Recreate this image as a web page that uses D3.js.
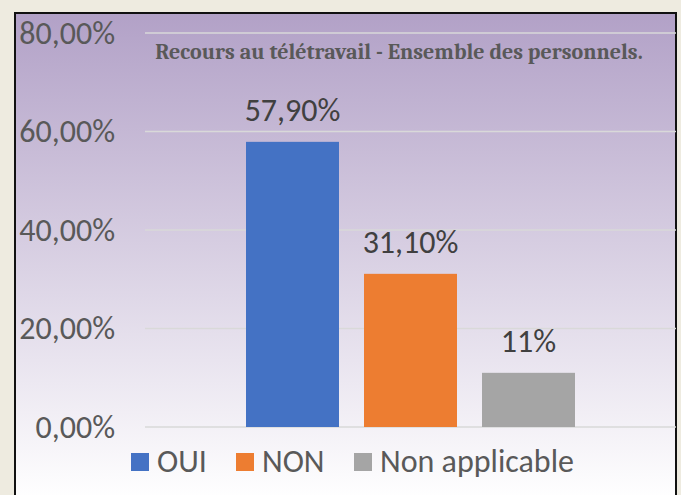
<!DOCTYPE html>
<html>
<head>
<meta charset="utf-8">
<script src="https://cdn.jsdelivr.net/npm/d3@7"></script>
<style>
  html, body { margin: 0; padding: 0; background: #eeebe0; }
  svg { display: block; }
  .sans { font-family: Calibri, Carlito, "Open Sans", sans-serif; }
  .title { font-family: Cambria, Caladea, "Liberation Serif", serif; font-weight: bold; }
</style>
</head>
<body>
<div id="chart"></div>
<script>
const title = 'Recours au télétravail - Ensemble des personnels.'
const series = ['OUI', 'NON', 'Non applicable']
const values = [57.9, 31.1, 11]
const valueLabels = ['57,90%', '31,10%', '11%']
const colors = ['#4472c4', '#ed7d31', '#a5a5a5']
const yTicks = [0, 20, 40, 60, 80]

const W = 681, H = 495
const frame = {left: 15, top: 13, right: 676}
const plot = {left: 145, right: 676, top: 33, bottom: 427}

const svg = d3.select('#chart').append('svg')
	.attr('width', W).attr('height', H)

const defs = svg.append('defs')
const grad = defs.append('linearGradient')
	.attr('id', 'bg').attr('x1', 0).attr('y1', 0).attr('x2', 0).attr('y2', 1)
grad.append('stop').attr('offset', '0%').attr('stop-color', '#b2a1c7')
grad.append('stop').attr('offset', '100%').attr('stop-color', '#ffffff')

svg.append('rect')
	.attr('x', frame.left).attr('y', frame.top)
	.attr('width', frame.right - frame.left).attr('height', H - frame.top + 5)
	.attr('fill', 'url(#bg)')
	.attr('stroke', '#111').attr('stroke-width', 2)

const y = d3.scaleLinear()
	.domain([0, 80])
	.range([plot.bottom, plot.top])

// one category, three series: cluster takes plot width / (1 + 50% gap)
const plotW = plot.right - plot.left
const cx = (plot.left + plot.right) / 2
const clusterW = plotW / 1.5
const x = d3.scaleBand()
	.domain(series)
	.range([cx - clusterW / 2, cx + clusterW / 2])
	.paddingInner(0.212)
	.paddingOuter(0.106)

const grid = svg.append('g')
grid.selectAll('line').data(yTicks).join('line')
	.attr('x1', plot.left).attr('x2', plot.right)
	.attr('y1', d => y(d)).attr('y2', d => y(d))
	.attr('stroke', '#d9d9d9').attr('stroke-width', 1.5)

const yAxis = svg.append('g')
	.attr('transform', `translate(${plot.left - 30},0)`)
	.call(d3.axisLeft(y).tickValues(yTicks).tickSize(0).tickPadding(0)
		.tickFormat(d => d3.format('.2f')(d).replace('.', ',') + '%'))
yAxis.select('.domain').remove()
yAxis.attr('font-family', null).attr('font-size', null)
yAxis.selectAll('text')
	.attr('class', 'sans')
	.attr('font-size', 32).attr('fill', '#595959')

svg.append('g').selectAll('rect').data(series).join('rect')
	.attr('x', d => x(d))
	.attr('width', x.bandwidth())
	.attr('y', (d, i) => y(values[i]))
	.attr('height', (d, i) => y(0) - y(values[i]))
	.attr('fill', (d, i) => colors[i])

svg.append('g').selectAll('text').data(series).join('text')
	.attr('class', 'sans')
	.attr('x', d => x(d) + x.bandwidth() / 2)
	.attr('y', (d, i) => y(values[i]) - 21)
	.attr('text-anchor', 'middle')
	.attr('font-size', 32).attr('fill', '#404040')
	.text((d, i) => valueLabels[i])

svg.append('text')
	.attr('class', 'title')
	.attr('x', 399).attr('y', 59)
	.attr('text-anchor', 'middle')
	.attr('font-size', 22)
	.attr('fill', '#595959')
	.text(title)

// legend
const legendX = [131, 236, 354]
const legend = svg.append('g').selectAll('g').data(series).join('g')
	.attr('transform', (d, i) => `translate(${legendX[i]},453)`)
legend.append('rect')
	.attr('width', 18).attr('height', 18)
	.attr('fill', (d, i) => colors[i])
legend.append('text')
	.attr('class', 'sans')
	.attr('x', 26).attr('y', 19)
	.attr('font-size', 32).attr('fill', '#595959')
	.text(d => d)
</script>
</body>
</html>
